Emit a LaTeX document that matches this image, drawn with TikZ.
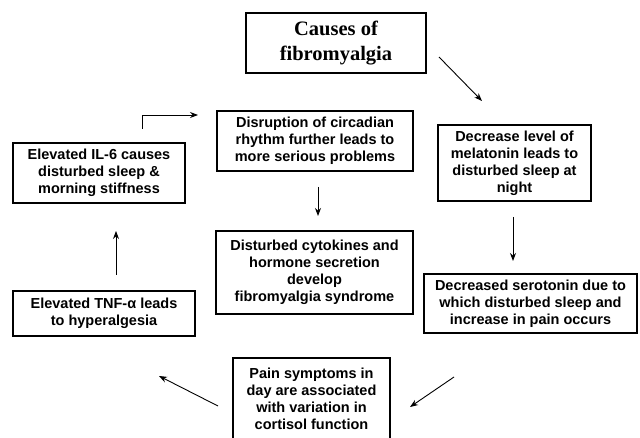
\documentclass[tikz,border=0pt]{standalone}
\usepackage{fontspec}
\setmainfont{Liberation Sans}
\newfontfamily\serifbox{Liberation Serif}
\usetikzlibrary{arrows.meta}
\begin{document}
\begin{tikzpicture}[x=1pt,y=-1pt,
  box/.style={draw,line width=1.2pt,inner sep=0pt,align=center,
    font=\fontsize{14.5}{17}\selectfont\bfseries},
  arr/.style={line width=0.9pt,-{Stealth[length=8pt,width=6pt]}}]
\useasboundingbox (0,0) rectangle (640,438);
\clip (0,0) rectangle (640,438);
\node[box,minimum width=180pt,minimum height=60pt,font=\serifbox\fontsize{20.5}{25}\selectfont\bfseries] (causes) at (336,43) {Causes of\\fibromyalgia};
\node[box,minimum width=196pt,minimum height=60pt] (disr) at (315,141) {Disruption of circadian\\rhythm further leads to\\more serious problems};
\node[box,minimum width=172pt,minimum height=60pt] (il6) at (99,173) {Elevated IL-6 causes\\disturbed sleep \&\\morning stiffness};
\node[box,minimum width=153pt,minimum height=76pt] (mel) at (514.5,163) {Decrease level of\\melatonin leads to\\disturbed sleep at\\night};
\node[box,minimum width=197pt,minimum height=83pt] (cyto) at (314.5,272.5) {Disturbed cytokines and\\hormone secretion\\develop\\fibromyalgia syndrome};
\node[box,minimum width=182pt,minimum height=45pt] (tnf) at (104,313.5) {Elevated TNF-α leads\\to hyperalgesia};
\node[box,minimum width=213pt,minimum height=59pt] (sero) at (530.5,303.5) {Decreased serotonin due to\\which disturbed sleep and\\increase in pain occurs};
\node[box,minimum width=157pt,minimum height=82pt] (pain) at (311.5,399) {Pain symptoms in\\day are associated\\with variation in\\cortisol function};
% connector ends
\coordinate (c1s) at (439,57);   \coordinate (c1e) at (482,101);
\coordinate (c2s) at (142,129);  \coordinate (c2m) at (142,115); \coordinate (c2e) at (198,115);
\coordinate (c3s) at (318,187);  \coordinate (c3e) at (318,216);
\coordinate (c4s) at (513,217);  \coordinate (c4e) at (513,261);
\coordinate (c5s) at (454,377);  \coordinate (c5e) at (410,407);
\coordinate (c6s) at (218,406);  \coordinate (c6e) at (159,376);
\coordinate (c7s) at (116,275);  \coordinate (c7e) at (116,231);
\draw[arr] (c1s) -- (c1e);
\draw[arr] (c2s) -- (c2m) -- (c2e);
\draw[arr] (c3s) -- (c3e);
\draw[arr] (c4s) -- (c4e);
\draw[arr] (c5s) -- (c5e);
\draw[arr] (c6s) -- (c6e);
\draw[arr] (c7s) -- (c7e);
\end{tikzpicture}
\end{document}
